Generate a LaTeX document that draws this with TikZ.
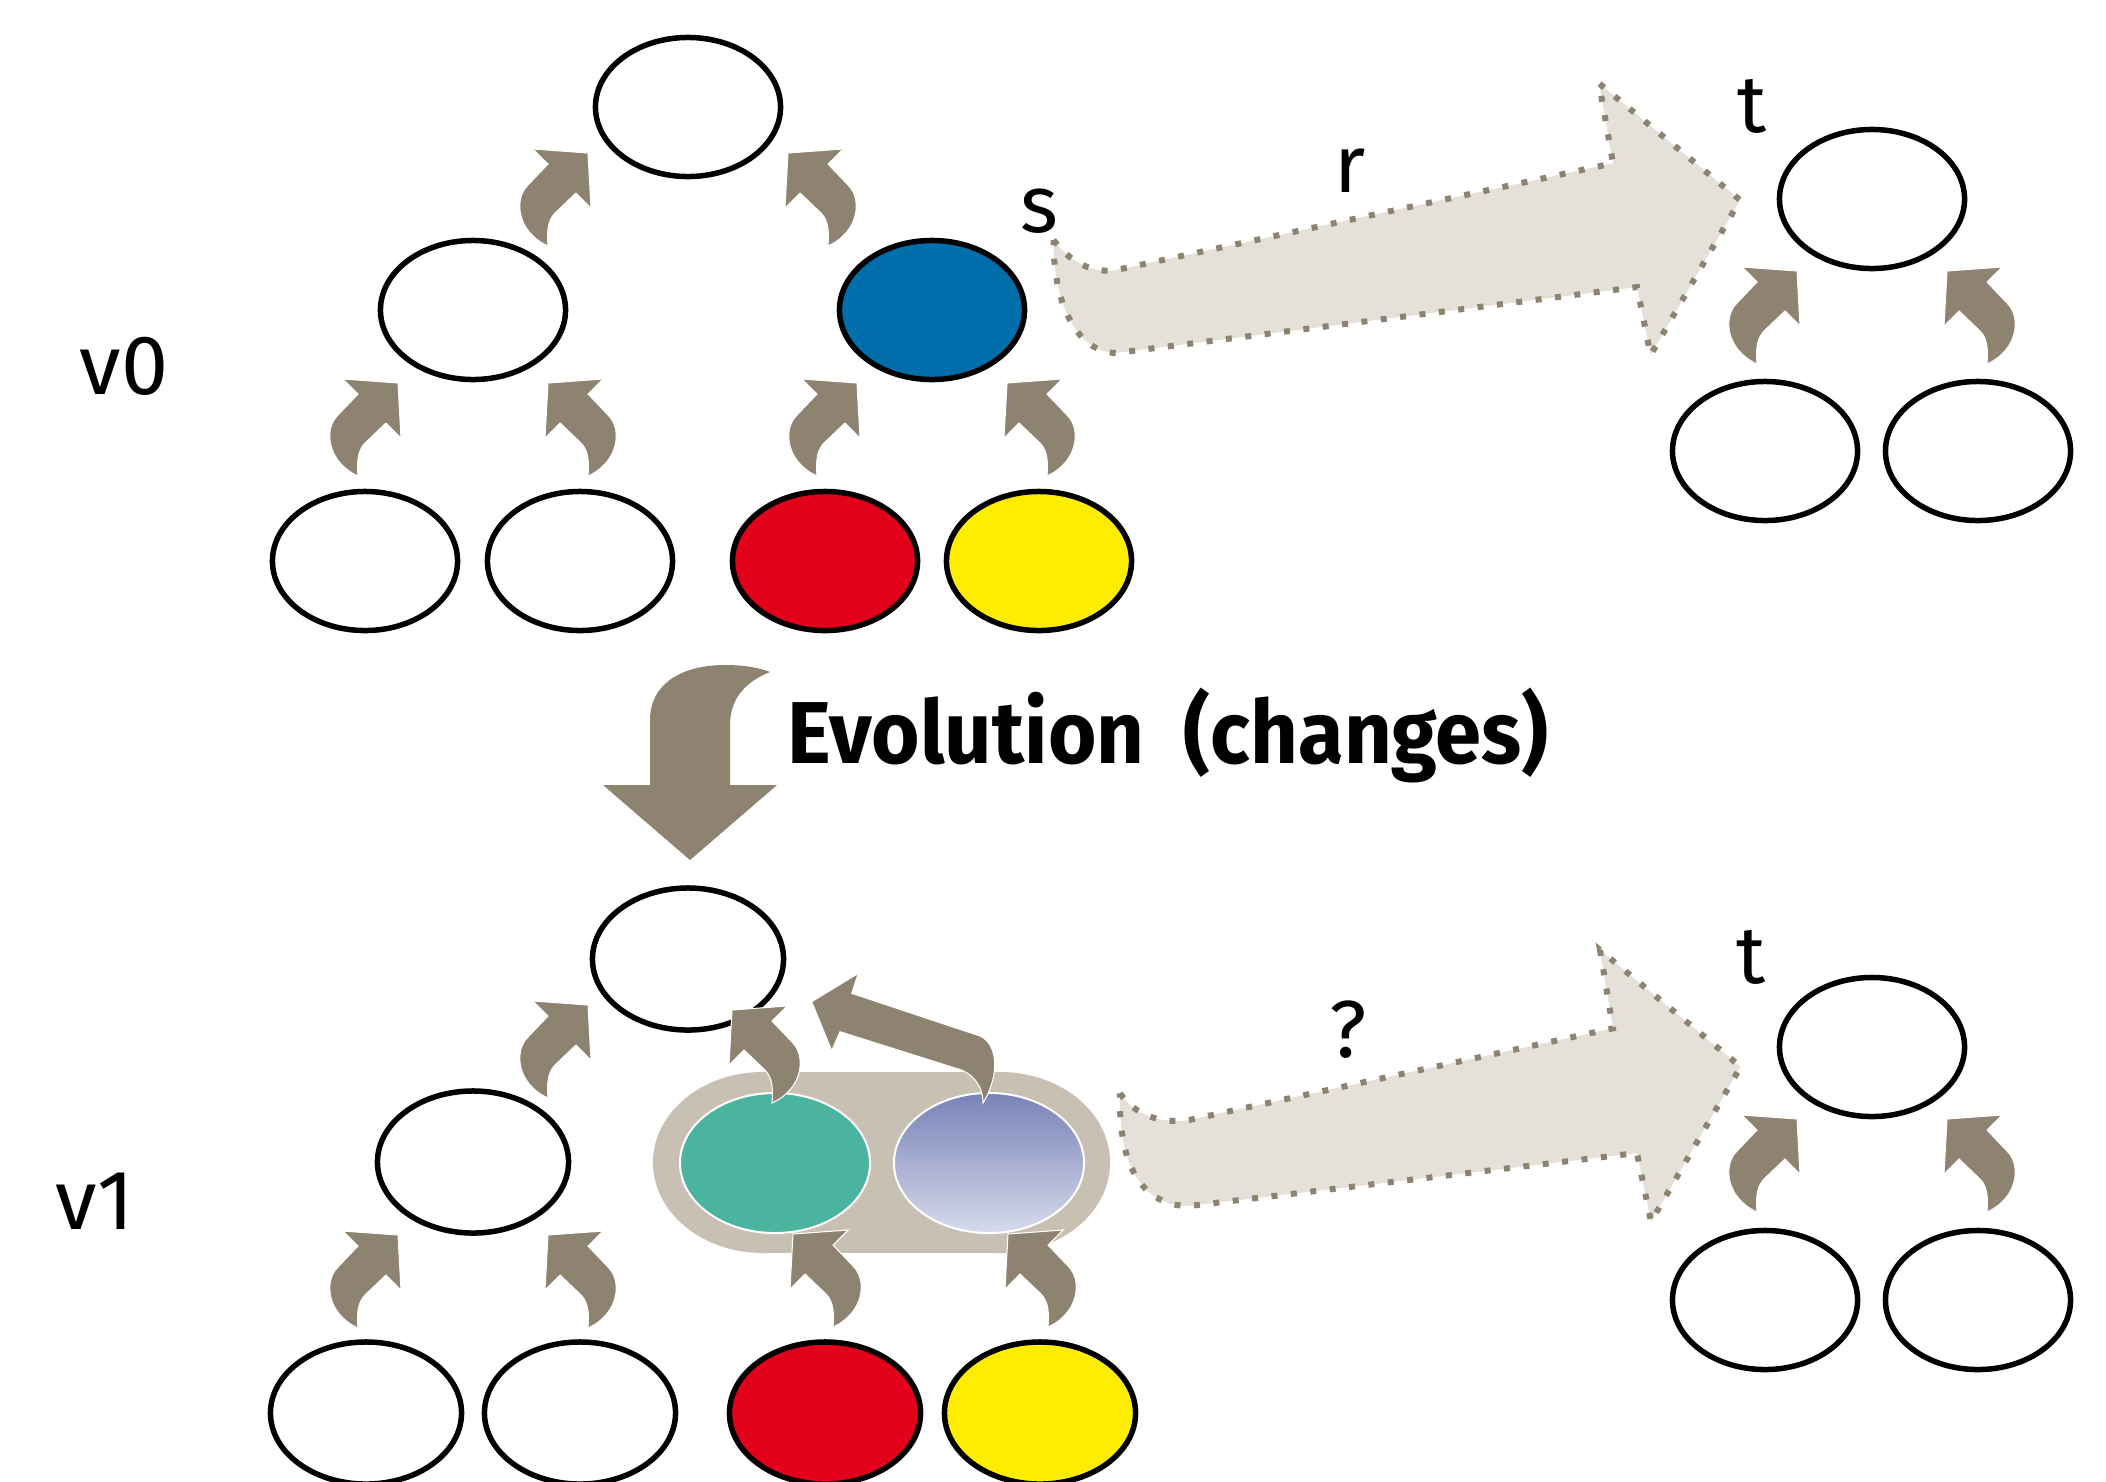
\documentclass[tikz,border=0pt]{standalone}
\usepackage{fontspec}
\setmainfont{Fira Sans}
\usetikzlibrary{shapes.geometric,calc}

\definecolor{nodeblue}{RGB}{0,110,170}
\definecolor{nodered}{RGB}{226,0,26}
\definecolor{nodeyellow}{RGB}{255,237,0}
\definecolor{nodegreen}{RGB}{74,180,158}
\definecolor{shadetop}{RGB}{120,130,183}
\definecolor{shadebottom}{RGB}{215,219,236}
\definecolor{arrowbrown}{RGB}{142,130,112}
\definecolor{pill}{RGB}{201,192,180}
\definecolor{mapfill}{RGB}{228,224,218}

\tikzset{
  tnode/.style={ellipse, draw=black, line width=0.055cm, fill=white,
    minimum width=1.85cm, minimum height=1.39cm, inner sep=0pt, outer sep=0pt},
  wnode/.style={tnode, minimum width=1.91cm, minimum height=1.42cm},
  merged/.style={ellipse, draw=white, line width=0.02cm,
    minimum width=1.90cm, minimum height=1.40cm, inner sep=0pt, outer sep=0pt},
  lbl/.style={font=\fontsize{23}{27}\selectfont, inner sep=0pt, anchor=base},
  vlbl/.style={font=\fontsize{24}{28}\selectfont, inner sep=0pt, anchor=base},
  mapping/.style={fill=mapfill, draw=arrowbrown, line width=0.06cm,
    dash pattern=on 0.06cm off 0.135cm},
  blockarrow/.style={fill=arrowbrown, draw=white, line width=0.3pt},
  % curved up-right arrow, tail at the origin
  kidarrow/.pic={
    \path[blockarrow]
      (0,0) .. controls (-18,-8) and (-30,-25) .. (-28,-44)
      .. controls (-27,-52) and (-24,-57) .. (-20,-61)
      -- (0,-82) -- (-15,-97) -- (40,-93) -- (43,-38) -- (28,-53) -- (7,-33)
      .. controls (-1,-25) and (-1,-12) .. (0,0) -- cycle;
  }
}

\begin{document}
\begin{tikzpicture}[x=0.01cm, y=-0.01cm]
\useasboundingbox (0,0) rectangle (2106,1481);
\fill[white] (0,0) rectangle (2106,1481);

% ---------- mapping arrows ----------
\path[mapping] (1053.5,240) .. controls (1070,262) and (1090,272) .. (1113,270.7)
  -- (1613,163.3) -- (1599,83.3) -- (1740,200) -- (1650.6,355) -- (1637,287)
  -- (1116,353) .. controls (1075,352) and (1053,300) .. cycle;
\path[mapping] (1120,1093.3) .. controls (1135,1115) and (1160,1124) .. (1189,1120)
  -- (1613,1028.3) -- (1600,950) -- (1740.6,1066.7) -- (1651,1221.7) -- (1637,1153)
  -- (1189,1206) .. controls (1145,1206) and (1118,1170) .. cycle;

% ---------- version v0 ----------
\node[tnode] (root0) at (688,107) {};
\node[tnode] (ml0) at (473,310) {};
\node[tnode, fill=nodeblue] (s0) at (932,310) {};
\node[tnode] (la0) at (365,561) {};
\node[tnode] (lb0) at (580,561) {};
\node[tnode, fill=nodered] (red0) at (825,561) {};
\node[tnode, fill=nodeyellow] (yel0) at (1039,561) {};

\node[tnode] (troot0) at (1872,199) {};
\node[tnode] (tla0) at (1765,451) {};
\node[tnode] (tlb0) at (1978,451) {};

\pic at ($(ml0)+(-115,166)$) {kidarrow};
\pic[xscale=-1] at ($(ml0)+(115,166)$) {kidarrow};
\pic at ($(s0)+(-115,166)$) {kidarrow};
\pic[xscale=-1] at ($(s0)+(115,166)$) {kidarrow};
\pic at ($(root0)+(-140,139)$) {kidarrow};
\pic[xscale=-1] at ($(root0)+(140,139)$) {kidarrow};
\pic at ($(troot0)+(-115,165)$) {kidarrow};
\pic[xscale=-1] at ($(troot0)+(115,165)$) {kidarrow};

% ---------- evolution ----------
\fill[arrowbrown] (603,785) -- (650,785) -- (650,720)
  .. controls (650,685) and (680,665) .. (725,665)
  .. controls (745,665) and (760,668) .. (770,672)
  .. controls (750,680) and (730,695) .. (730,725)
  -- (730,785) -- (777,785) -- (690,860) -- cycle;
\node[font=\bfseries\fontsize{25}{30}\selectfont, inner sep=0pt, anchor=base west]
  (evo) at (787,763) {\scalebox{0.945}[1]{Evolution\ \ (changes)}};

% ---------- version v1 ----------
\fill[pill] (763,1072) rectangle (1000,1253);
\fill[pill] (763,1162.5) ellipse [x radius=1.10cm, y radius=0.905cm];
\fill[pill] (1000,1162.5) ellipse [x radius=1.10cm, y radius=0.905cm];

\node[wnode] (root1) at (688,959) {};
\node[wnode] (ml1) at (473,1162) {};
\node[merged, fill=nodegreen] (g1) at (775,1163) {};
\node[merged, top color=shadetop, bottom color=shadebottom] (m1) at (989,1163) {};
\node[wnode] (la1) at (366,1413) {};
\node[wnode] (lb1) at (580,1413) {};
\node[wnode, fill=nodered] (red1) at (825,1413) {};
\node[wnode, fill=nodeyellow] (yel1) at (1040,1413) {};

\node[tnode] (troot1) at (1872,1047) {};
\node[tnode] (tla1) at (1765,1300) {};
\node[tnode] (tlb1) at (1978,1300) {};

\pic at ($(ml1)+(-115,166)$) {kidarrow};
\pic[xscale=-1] at ($(ml1)+(115,166)$) {kidarrow};
\pic[xscale=-1] at ($(g1)+(58,164)$) {kidarrow};
\pic[xscale=-1] at ($(m1)+(59,164)$) {kidarrow};
\pic at ($(root1)+(-140,139)$) {kidarrow};
\pic[xscale=-1] at ($(root1)+(84,144)$) {kidarrow};
\pic at ($(troot1)+(-115,165)$) {kidarrow};
\pic[xscale=-1] at ($(troot1)+(115,165)$) {kidarrow};

% long arrow from the shaded node up to the root
\path[blockarrow] (811.7,1001.7) -- (858.3,973.3) -- (851.7,993.3) -- (980,1036)
  .. controls (998,1044) and (1000,1075) .. (983,1103)
  .. controls (983,1085) and (972,1072) .. (955,1068)
  -- (840,1031.7) -- (831.7,1050.7) -- cycle;

% ---------- labels ----------
\node[vlbl] (v0) at (124,394) {v0};
\node[vlbl] (v1) at (95,1229) {v1};
\node[lbl] (s) at (1039,232) {s};
\node[lbl] (r) at (1350,192) {r};
\node[lbl] (t0) at (1752,132) {t};
\node[lbl] (t1) at (1751,983) {t};
\node[lbl] (q) at (1348,1057) {?};
\end{tikzpicture}
\end{document}
